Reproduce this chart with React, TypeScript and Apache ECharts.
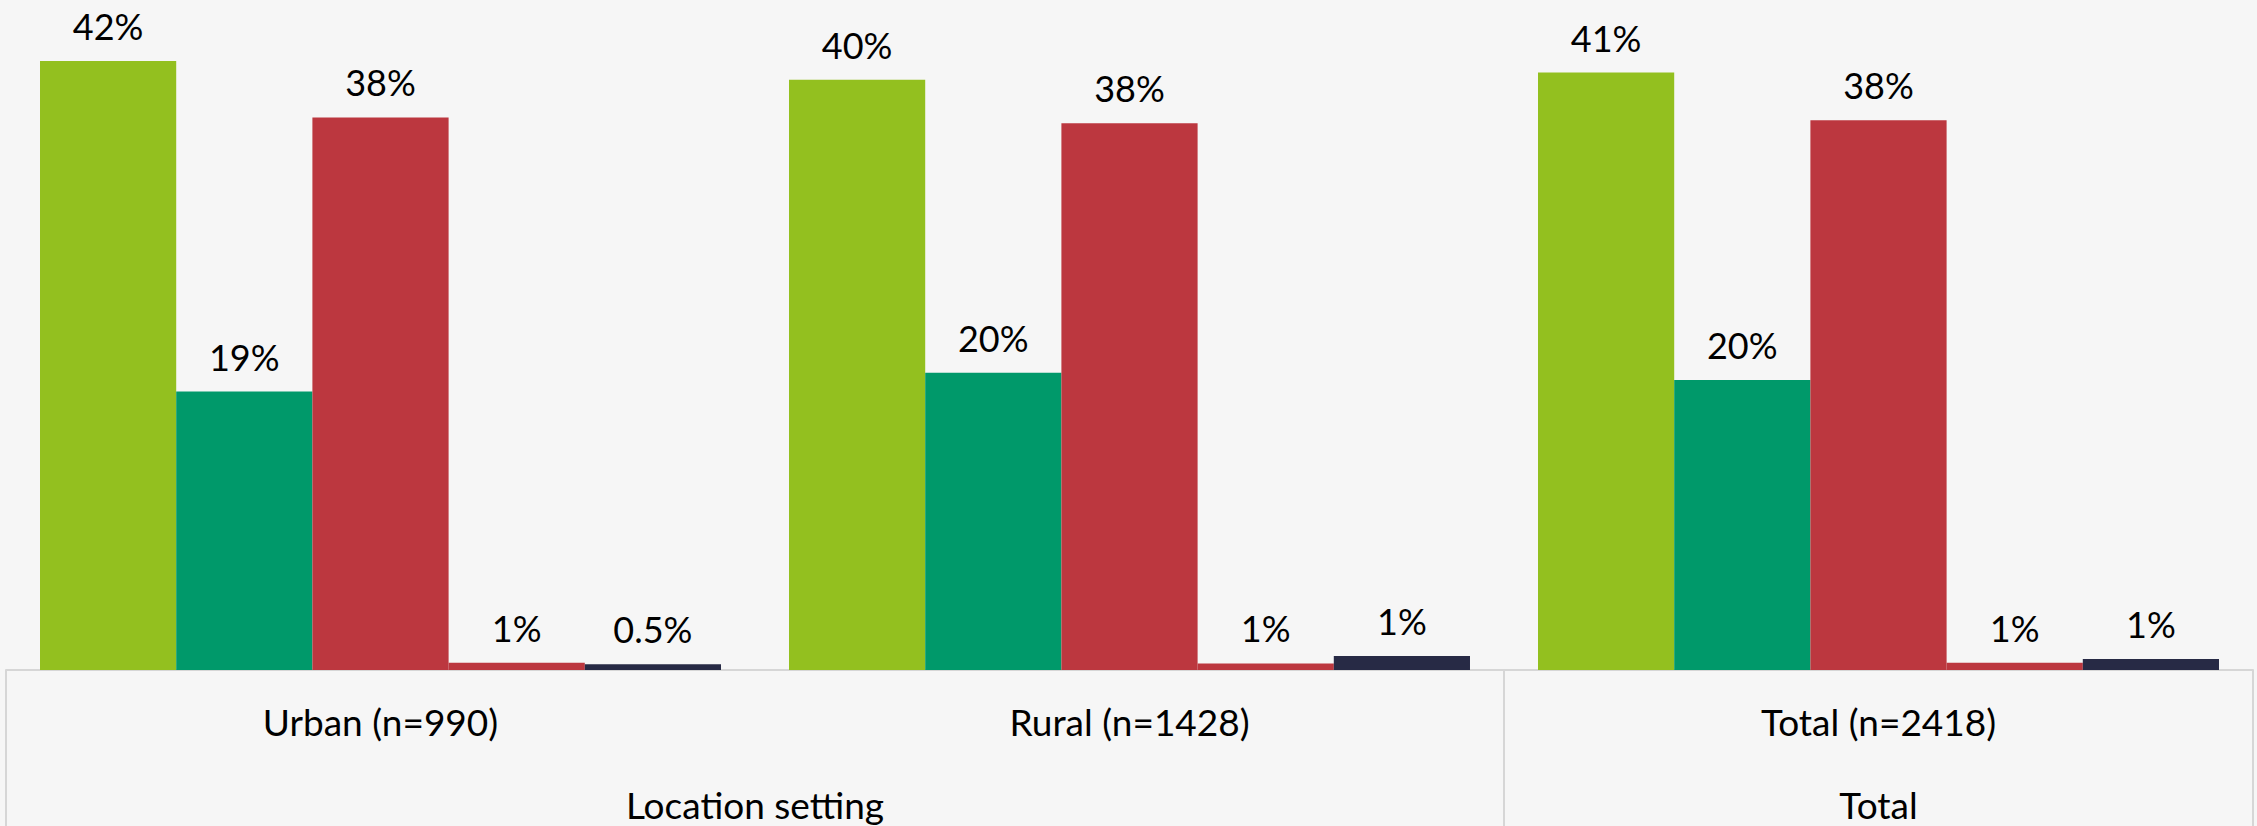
import React, { useEffect, useRef } from "react";
import * as echarts from "echarts";

// ---- data ----
const categories = ["Urban (n=990)", "Rural (n=1428)", "Total (n=2418)"];
const outerGroups = ["Location setting", "Total"];
const outerSpans = [2, 1];

const seriesNames = ["Series 1", "Series 2", "Series 3", "Series 4", "Series 5"];
const seriesColors = ["#93C01F", "#00996A", "#BC373F", "#BC373F", "#272A45"];

const s1Values = [42.0, 40.7, 41.2];
const s2Values = [19.2, 20.5, 20.0];
const s3Values = [38.1, 37.7, 37.9];
const s4Values = [0.5, 0.45, 0.5];
const s5Values = [0.4, 0.97, 0.76];

const s1Labels = ["42%", "40%", "41%"];
const s2Labels = ["19%", "20%", "20%"];
const s3Labels = ["38%", "38%", "38%"];
const s4Labels = ["1%", "1%", "1%"];
const s5Labels = ["0.5%", "1%", "1%"];

const allValues = [s1Values, s2Values, s3Values, s4Values, s5Values];
const allLabels = [s1Labels, s2Labels, s3Labels, s4Labels, s5Labels];

const FONT = "Lato, 'Noto Sans', sans-serif";
const LINE = "#d6d6d6";

export default function App() {
  const ref = useRef<HTMLDivElement>(null);

  useEffect(() => {
    if (!ref.current) return;
    const chart = echarts.init(ref.current, undefined, { renderer: "svg" });

    // outer tier: boundaries and centers in category units
    const bounds: number[] = [0];
    const centers: number[] = [];
    outerSpans.forEach((s) => {
      const start = bounds[bounds.length - 1];
      centers.push(start + s / 2);
      bounds.push(start + s);
    });

    const series = allValues.map((vals, i) => ({
      name: seriesNames[i],
      type: "bar",
      xAxisIndex: 0,
      yAxisIndex: 0,
      data: vals,
      barGap: "0%",
      barCategoryGap: "9.08%",
      itemStyle: { color: seriesColors[i] },
      label: {
        show: true,
        position: "top",
        distance: 17,
        fontSize: 36,
        fontFamily: FONT,
        color: "#000",
        formatter: (p: any) => allLabels[i][p.dataIndex],
      },
    }));

    chart.setOption({
      animation: false,
      backgroundColor: "#f6f6f6",
      grid: { left: 6, right: 4, top: 0, bottom: 156, containLabel: false },
      xAxis: [
        {
          type: "category",
          data: categories,
          position: "bottom",
          axisLine: { show: true, lineStyle: { color: LINE, width: 2 } },
          axisTick: { show: false },
          axisLabel: {
            fontSize: 37,
            fontFamily: FONT,
            color: "#000",
            margin: 33,
            interval: 0,
          },
          splitLine: { show: false },
        },
        {
          type: "value",
          min: 0,
          max: categories.length,
          position: "bottom",
          axisLine: { show: false },
          splitLine: { show: false },
          axisTick: {
            show: true,
            customValues: bounds,
            length: 156,
            lineStyle: { color: LINE, width: 2 },
          },
          axisLabel: {
            customValues: centers,
            fontSize: 37,
            fontFamily: FONT,
            color: "#000",
            margin: 116,
            formatter: (v: number) => {
              const idx = centers.findIndex((c) => Math.abs(c - v) < 1e-6);
              return idx >= 0 ? outerGroups[idx] : "";
            },
          },
        },
      ],
      yAxis: {
        type: "value",
        min: 0,
        max: 46.2,
        show: false,
        splitLine: { show: false },
      },
      series,
    });

    return () => chart.dispose();
  }, []);

  return (
    <div
      ref={ref}
      style={{ position: "fixed", left: 0, top: 0, width: 2257, height: 826 }}
    />
  );
}
